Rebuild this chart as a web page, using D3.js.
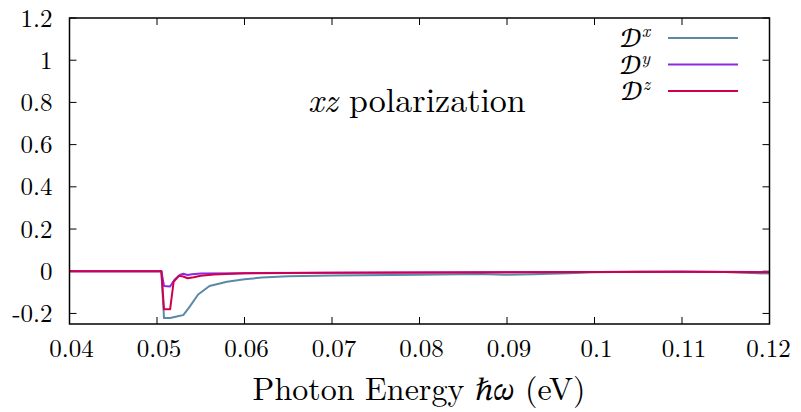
<!DOCTYPE html>
<html><head><meta charset="utf-8">
<script src="https://cdn.jsdelivr.net/npm/d3@7"></script>
<style>body{margin:0;background:#fff}svg{display:block}</style>
</head><body>
<svg id="c" width="801" height="412"></svg>
<script>
const xTicks = [0.04,0.05,0.06,0.07,0.08,0.09,0.1,0.11,0.12];
const yTicks = [-0.2,0,0.2,0.4,0.6,0.8,1,1.2];
const seriesNames = ["x","y","z"];
const seriesColors = ["#5b8aa8","#8a2be2","#d0004f"];

const energyX = [0.040,0.0505,0.0508,0.0515,0.0525,0.0530,0.0537,0.0547,0.0560,0.0580,0.0600,0.0620,0.065,0.070,0.080,0.087,0.0897,0.093,0.097,0.100,0.105,0.110,0.115,0.120];
const valuesX = [0,0,-0.222,-0.222,-0.212,-0.208,-0.17,-0.11,-0.07,-0.05,-0.038,-0.03,-0.024,-0.02,-0.017,-0.013,-0.017,-0.014,-0.01,-0.005,-0.003,-0.003,-0.004,-0.011];

const energyY = [0.040,0.0505,0.0508,0.0515,0.0520,0.0526,0.0530,0.0535,0.0540,0.0550,0.060,0.070,0.080,0.090,0.100,0.110,0.120];
const valuesY = [0,0,-0.07,-0.072,-0.04,-0.018,-0.012,-0.018,-0.014,-0.011,-0.009,-0.007,-0.006,-0.005,-0.004,-0.003,-0.004];

const energyZ = [0.040,0.0505,0.0508,0.0515,0.0519,0.0525,0.0530,0.0535,0.0542,0.0550,0.0565,0.060,0.065,0.070,0.080,0.090,0.100,0.110,0.120];
const valuesZ = [0,0,-0.18,-0.18,-0.05,-0.022,-0.025,-0.033,-0.028,-0.021,-0.015,-0.01,-0.008,-0.007,-0.006,-0.005,-0.004,-0.003,-0.005];

const LM = '"Latin Modern Roman","CMU Serif","Liberation Serif",serif';
const CAL = '"STIX Two Math","Latin Modern Roman",serif';

const svg = d3.select("#c");
const L=69.5, R=769.5, T=18, B=324;
const x = d3.scaleLinear().domain([0.04,0.12]).range([L,R]);
const y = d3.scaleLinear().domain([-0.25,1.2]).range([B,T]);

const g = svg.append("g");
const tl = 7;
xTicks.forEach(v=>{
  g.append("line").attr("x1",x(v)).attr("x2",x(v)).attr("y1",B).attr("y2",B-tl).attr("stroke","#000");
  g.append("line").attr("x1",x(v)).attr("x2",x(v)).attr("y1",T).attr("y2",T+tl).attr("stroke","#000");
  g.append("text").attr("x",v===0.12?x(v)-1:x(v)+2).attr("y",B+33).attr("text-anchor","middle")
   .style("font-family",LM).style("font-size","25px").text(String(v));
});
yTicks.forEach(v=>{
  g.append("line").attr("x1",L).attr("x2",L+tl).attr("y1",y(v)).attr("y2",y(v)).attr("stroke","#000");
  g.append("line").attr("x1",R).attr("x2",R-tl).attr("y1",y(v)).attr("y2",y(v)).attr("stroke","#000");
  g.append("text").attr("x",L-17).attr("y",y(v)+8.5).attr("text-anchor","end")
   .style("font-family",LM).style("font-size","25px").text(String(v));
});

const line = d3.line().x(d=>x(d[0])).y(d=>y(d[1]));
const data = [d3.zip(energyX,valuesX), d3.zip(energyY,valuesY), d3.zip(energyZ,valuesZ)];
svg.append("clipPath").attr("id","pc").append("rect").attr("x",L).attr("y",T).attr("width",R-L).attr("height",B-T);
const pg = svg.append("g").attr("clip-path","url(#pc)");
data.forEach((d,i)=>{
  pg.append("path").datum(d).attr("d",line).attr("fill","none")
    .attr("stroke",seriesColors[i]).attr("stroke-width",2).attr("stroke-linejoin","round");
});

svg.append("rect").attr("x",L).attr("y",T).attr("width",R-L).attr("height",B-T)
  .attr("fill","none").attr("stroke","#000").attr("stroke-width",1.5);

seriesNames.forEach((n,i)=>{
  const yy = 38 + i*26.5;
  const t = svg.append("text").attr("x",650).attr("y",yy+9).attr("text-anchor","end")
    .style("font-family",LM).style("font-size","26px");
  t.append("tspan").style("font-family",CAL).text("\u{1D49F}");
  t.append("tspan").text(n).style("font-style","italic").style("font-size","18px").attr("dy",-10);
  svg.append("line").attr("x1",668).attr("x2",738).attr("y1",yy).attr("y2",yy)
    .attr("stroke",seriesColors[i]).attr("stroke-width",2);
});

const tt = svg.append("text").attr("x",308).attr("y",112).style("font-family",LM).style("font-size","34px");
tt.append("tspan").text("xz").style("font-style","italic");
tt.append("tspan").text(" polarization");

const xl = svg.append("text").attr("x",419).attr("y",400).attr("text-anchor","middle")
  .style("font-family",LM).style("font-size","32px");
xl.append("tspan").text("Photon Energy ");
xl.append("tspan").text("\u210F\u{1D714}").style("font-family",CAL);
xl.append("tspan").text(" (eV)");
</script>
</body></html>
